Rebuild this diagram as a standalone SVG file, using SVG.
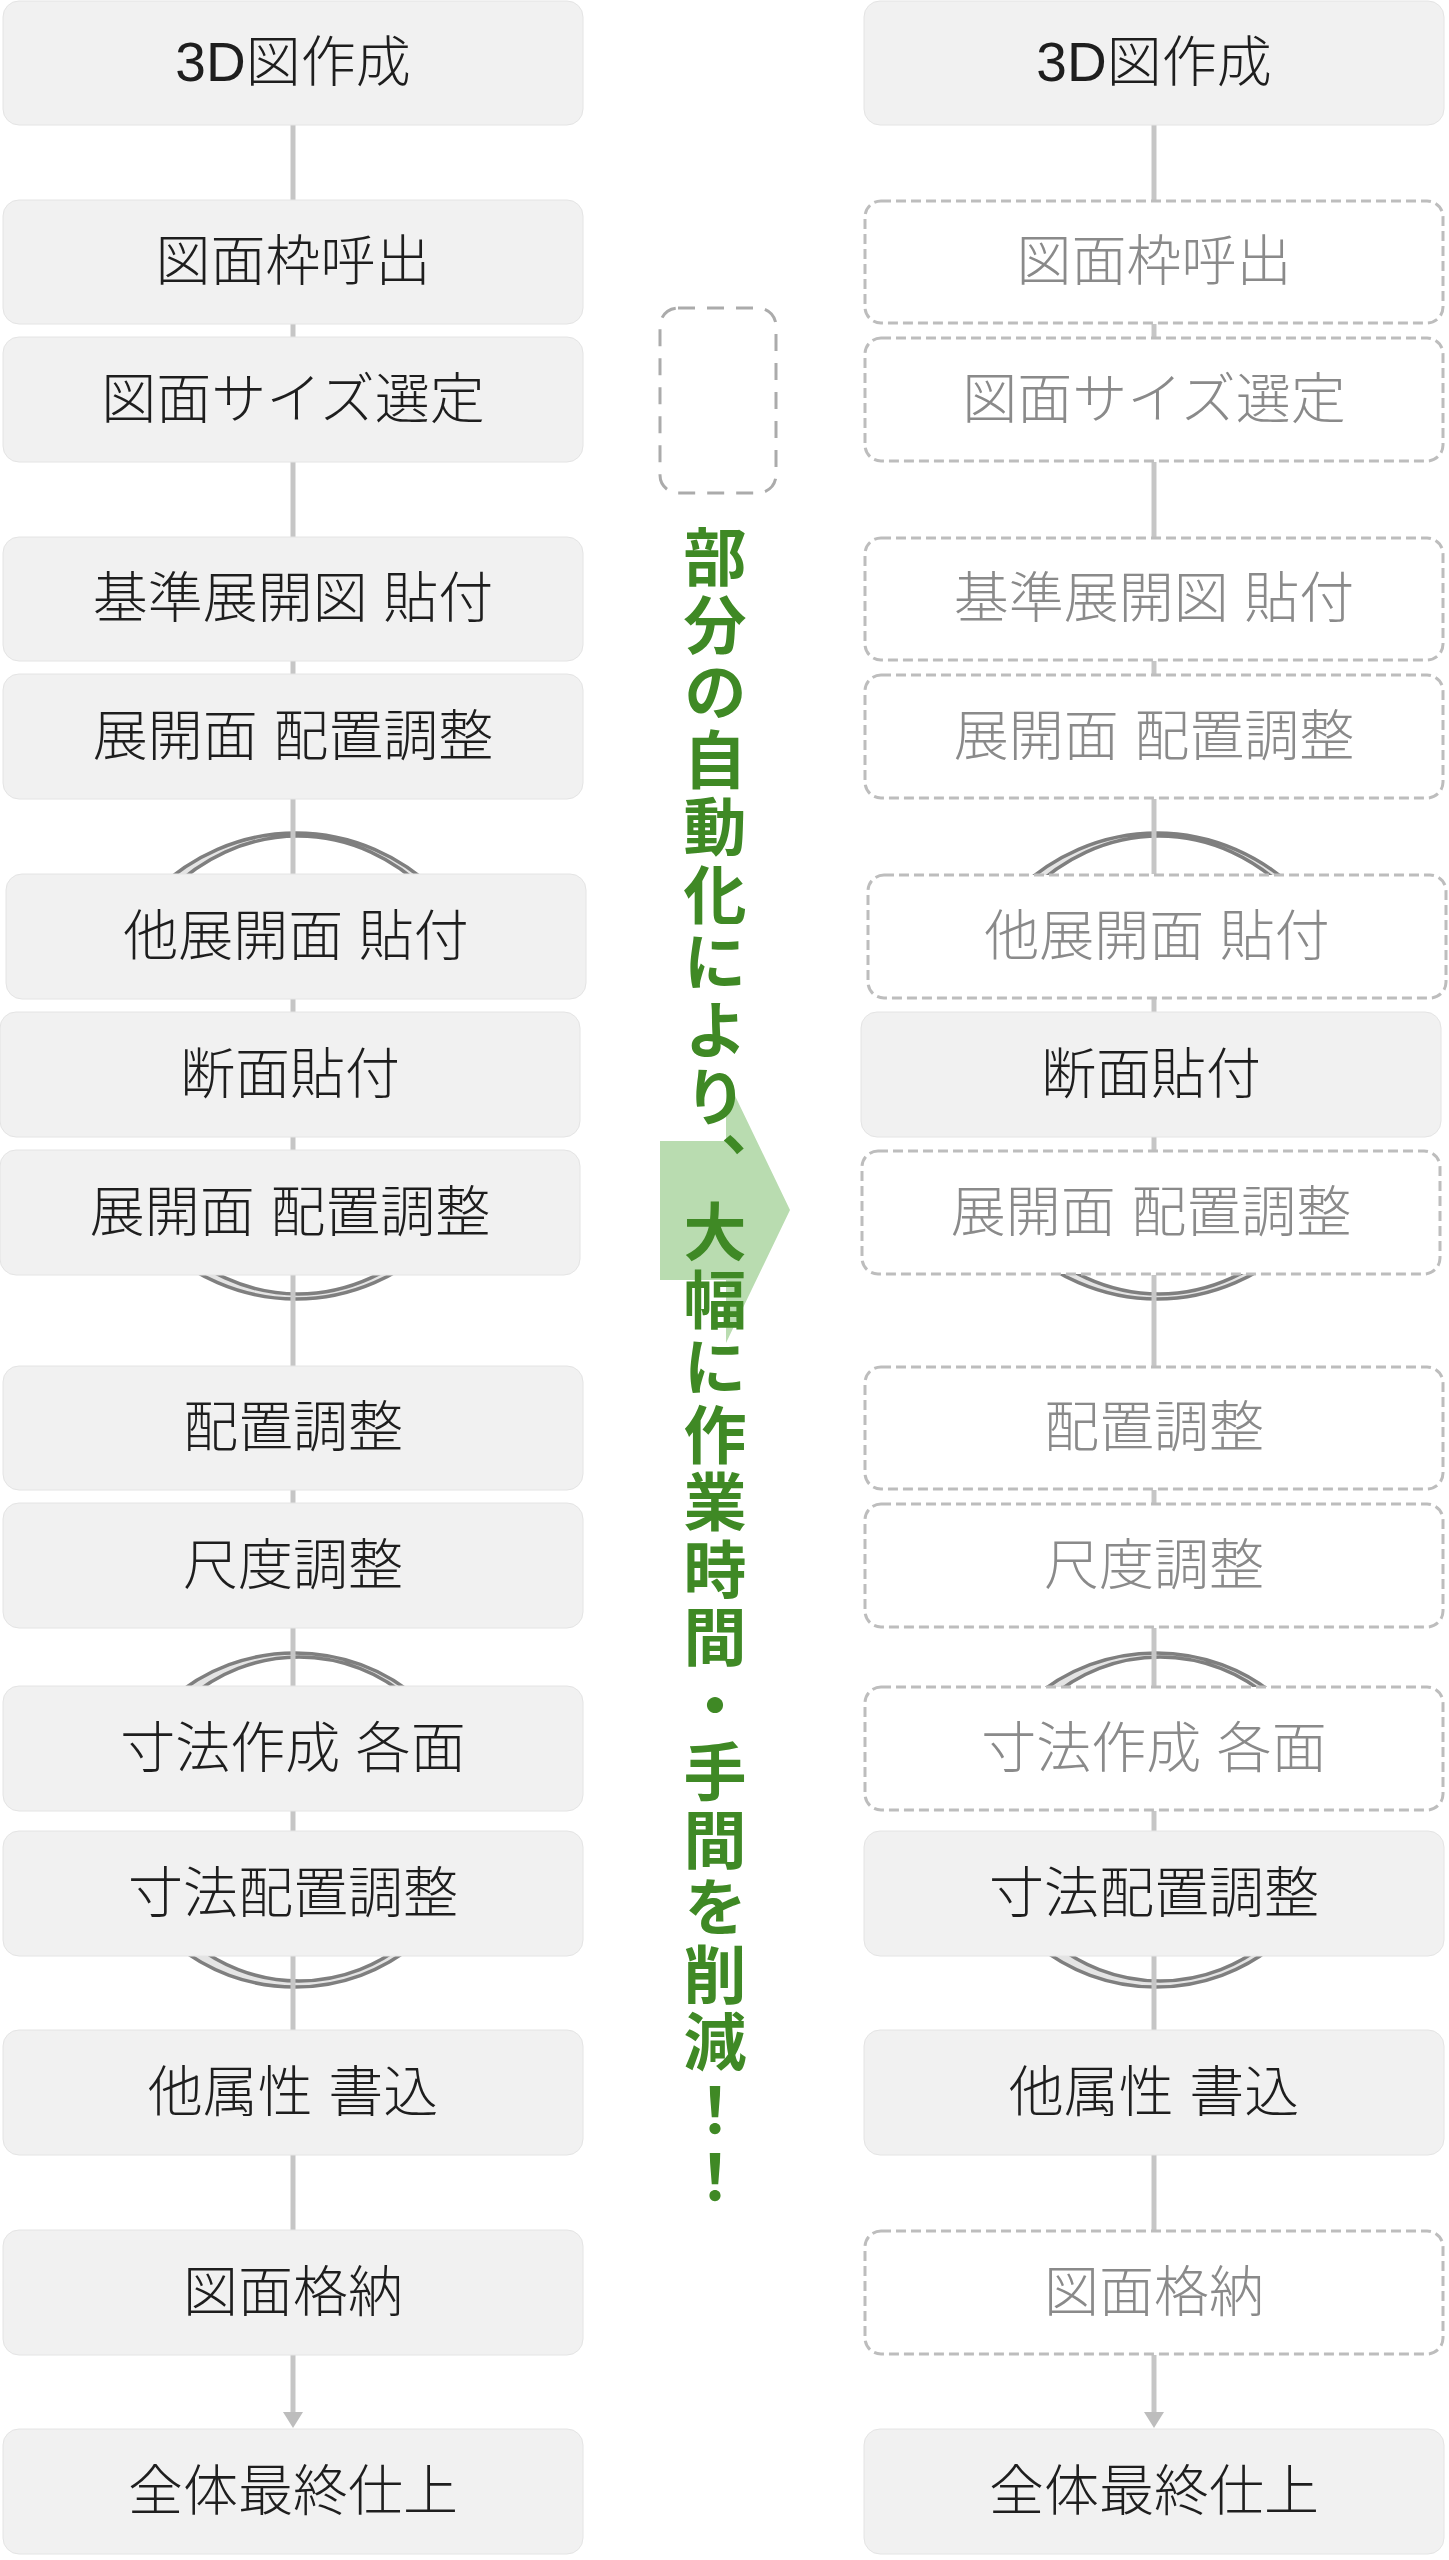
<svg xmlns="http://www.w3.org/2000/svg" width="1449" height="2560" viewBox="0 0 1449 2560">
<style>
.bx{fill:#f1f1f1;stroke:#e4e4e4;stroke-width:1}
.dbx{fill:#ffffff;stroke:#bdbdbd;stroke-width:3;stroke-dasharray:10 5}
.t{font-family:"Liberation Sans","Noto Sans CJK JP",sans-serif;font-size:55px;font-weight:300;text-anchor:middle;fill:#1e1e1e}
.tg{fill:#8a8a8a}
.cn{stroke:#c6c6c6;stroke-width:5;fill:none}
.lp{fill:#e4e4e4;fill-rule:evenodd;stroke:#7f7f7f;stroke-width:3.5}
</style>
<defs>
<marker id="arr" markerUnits="userSpaceOnUse" markerWidth="16" markerHeight="20" viewBox="0 0 16 20" refX="0" refY="10" orient="auto">
<path d="M0,0 L16,10 L0,20 Z" fill="#bdbdbd"/>
</marker>
<clipPath id="clip1"><rect x="0" y="800" width="1449" height="90"/><rect x="0" y="1260" width="1449" height="60"/></clipPath>
<clipPath id="clip2"><rect x="0" y="1630" width="1449" height="70"/><rect x="0" y="1945" width="1449" height="60"/></clipPath>
</defs>
<rect width="1449" height="2560" fill="#ffffff"/>

<g id="loops">
<path class="lp" clip-path="url(#clip1)" d="M83,1066 a213,233 0 1,0 426,0 a213,233 0 1,0 -426,0 Z M100,1065 a198,229 0 1,0 396,0 a198,229 0 1,0 -396,0 Z"/>
<path class="lp" clip-path="url(#clip2)" d="M116,1820 a179,167 0 1,0 358,0 a179,167 0 1,0 -358,0 Z M134,1819 a165,162 0 1,0 330,0 a165,162 0 1,0 -330,0 Z"/>
<path class="lp" clip-path="url(#clip1)" d="M944,1066 a213,233 0 1,0 426,0 a213,233 0 1,0 -426,0 Z M961,1065 a198,229 0 1,0 396,0 a198,229 0 1,0 -396,0 Z"/>
<path class="lp" clip-path="url(#clip2)" d="M977,1820 a179,167 0 1,0 358,0 a179,167 0 1,0 -358,0 Z M995,1819 a165,162 0 1,0 330,0 a165,162 0 1,0 -330,0 Z"/>
</g>

<g id="connectors">
<line class="cn" x1="293" y1="125" x2="293" y2="200"/>
<line class="cn" x1="293" y1="324" x2="293" y2="337"/>
<line class="cn" x1="293" y1="462" x2="293" y2="537"/>
<line class="cn" x1="293" y1="661" x2="293" y2="674"/>
<line class="cn" x1="293" y1="799" x2="293" y2="874"/>
<line class="cn" x1="293" y1="999" x2="293" y2="1012"/>
<line class="cn" x1="293" y1="1137" x2="293" y2="1150"/>
<line class="cn" x1="293" y1="1275" x2="293" y2="1366"/>
<line class="cn" x1="293" y1="1490" x2="293" y2="1503"/>
<line class="cn" x1="293" y1="1628" x2="293" y2="1686"/>
<line class="cn" x1="293" y1="1811" x2="293" y2="1831"/>
<line class="cn" x1="293" y1="1956" x2="293" y2="2030"/>
<line class="cn" x1="293" y1="2155" x2="293" y2="2230"/>
<line class="cn" x1="293" y1="2355" x2="293" y2="2412" marker-end="url(#arr)"/>
<line class="cn" x1="1154" y1="125" x2="1154" y2="200"/>
<line class="cn" x1="1154" y1="324" x2="1154" y2="337"/>
<line class="cn" x1="1154" y1="462" x2="1154" y2="537"/>
<line class="cn" x1="1154" y1="661" x2="1154" y2="674"/>
<line class="cn" x1="1154" y1="799" x2="1154" y2="874"/>
<line class="cn" x1="1154" y1="999" x2="1154" y2="1012"/>
<line class="cn" x1="1154" y1="1137" x2="1154" y2="1150"/>
<line class="cn" x1="1154" y1="1275" x2="1154" y2="1366"/>
<line class="cn" x1="1154" y1="1490" x2="1154" y2="1503"/>
<line class="cn" x1="1154" y1="1628" x2="1154" y2="1686"/>
<line class="cn" x1="1154" y1="1811" x2="1154" y2="1831"/>
<line class="cn" x1="1154" y1="1956" x2="1154" y2="2030"/>
<line class="cn" x1="1154" y1="2155" x2="1154" y2="2230"/>
<line class="cn" x1="1154" y1="2355" x2="1154" y2="2412" marker-end="url(#arr)"/>
</g>

<g id="left-1"><rect class="bx" x="3" y="1" width="580" height="124" rx="16"/><text class="t" x="293" y="81">3D図作成</text></g>
<g id="left-2"><rect class="bx" x="3" y="200" width="580" height="124" rx="16"/><text class="t" x="293" y="280">図面枠呼出</text></g>
<g id="left-3"><rect class="bx" x="3" y="337" width="580" height="125" rx="16"/><text class="t" x="293" y="418">図面サイズ選定</text></g>
<g id="left-4"><rect class="bx" x="3" y="537" width="580" height="124" rx="16"/><text class="t" x="293" y="617">基準展開図 貼付</text></g>
<g id="left-5"><rect class="bx" x="3" y="674" width="580" height="125" rx="16"/><text class="t" x="293" y="755">展開面 配置調整</text></g>
<g id="left-6"><rect class="bx" x="6" y="874" width="580" height="125" rx="16"/><text class="t" x="296" y="955">他展開面 貼付</text></g>
<g id="left-7"><rect class="bx" x="0" y="1012" width="580" height="125" rx="16"/><text class="t" x="290" y="1093">断面貼付</text></g>
<g id="left-8"><rect class="bx" x="0" y="1150" width="580" height="125" rx="16"/><text class="t" x="290" y="1231">展開面 配置調整</text></g>
<g id="left-9"><rect class="bx" x="3" y="1366" width="580" height="124" rx="16"/><text class="t" x="293" y="1446">配置調整</text></g>
<g id="left-10"><rect class="bx" x="3" y="1503" width="580" height="125" rx="16"/><text class="t" x="293" y="1584">尺度調整</text></g>
<g id="left-11"><rect class="bx" x="3" y="1686" width="580" height="125" rx="16"/><text class="t" x="293" y="1767">寸法作成 各面</text></g>
<g id="left-12"><rect class="bx" x="3" y="1831" width="580" height="125" rx="16"/><text class="t" x="293" y="1912">寸法配置調整</text></g>
<g id="left-13"><rect class="bx" x="3" y="2030" width="580" height="125" rx="16"/><text class="t" x="293" y="2111">他属性 書込</text></g>
<g id="left-14"><rect class="bx" x="3" y="2230" width="580" height="125" rx="16"/><text class="t" x="293" y="2311">図面格納</text></g>
<g id="left-15"><rect class="bx" x="3" y="2429" width="580" height="125" rx="16"/><text class="t" x="293" y="2510">全体最終仕上</text></g>

<g id="right-1"><rect class="bx" x="864" y="1" width="580" height="124" rx="16"/><text class="t" x="1154" y="81">3D図作成</text></g>
<g id="right-2"><rect class="dbx" x="865" y="201" width="578" height="122" rx="16"/><text class="t tg" x="1154" y="280">図面枠呼出</text></g>
<g id="right-3"><rect class="dbx" x="865" y="338" width="578" height="123" rx="16"/><text class="t tg" x="1154" y="418">図面サイズ選定</text></g>
<g id="right-4"><rect class="dbx" x="865" y="538" width="578" height="122" rx="16"/><text class="t tg" x="1154" y="617">基準展開図 貼付</text></g>
<g id="right-5"><rect class="dbx" x="865" y="675" width="578" height="123" rx="16"/><text class="t tg" x="1154" y="755">展開面 配置調整</text></g>
<g id="right-6"><rect class="dbx" x="868" y="875" width="578" height="123" rx="16"/><text class="t tg" x="1157" y="955">他展開面 貼付</text></g>
<g id="right-7"><rect class="bx" x="861" y="1012" width="580" height="125" rx="16"/><text class="t" x="1151" y="1093">断面貼付</text></g>
<g id="right-8"><rect class="dbx" x="862" y="1151" width="578" height="123" rx="16"/><text class="t tg" x="1151" y="1231">展開面 配置調整</text></g>
<g id="right-9"><rect class="dbx" x="865" y="1367" width="578" height="122" rx="16"/><text class="t tg" x="1154" y="1446">配置調整</text></g>
<g id="right-10"><rect class="dbx" x="865" y="1504" width="578" height="123" rx="16"/><text class="t tg" x="1154" y="1584">尺度調整</text></g>
<g id="right-11"><rect class="dbx" x="865" y="1687" width="578" height="123" rx="16"/><text class="t tg" x="1154" y="1767">寸法作成 各面</text></g>
<g id="right-12"><rect class="bx" x="864" y="1831" width="580" height="125" rx="16"/><text class="t" x="1154" y="1912">寸法配置調整</text></g>
<g id="right-13"><rect class="bx" x="864" y="2030" width="580" height="125" rx="16"/><text class="t" x="1154" y="2111">他属性 書込</text></g>
<g id="right-14"><rect class="dbx" x="865" y="2231" width="578" height="123" rx="16"/><text class="t tg" x="1154" y="2311">図面格納</text></g>
<g id="right-15"><rect class="bx" x="864" y="2429" width="580" height="125" rx="16"/><text class="t" x="1154" y="2510">全体最終仕上</text></g>

<g id="placeholder"><rect x="660" y="308" width="116" height="185" rx="18" fill="none" stroke="#ababab" stroke-width="3" stroke-dasharray="17 12"/></g>

<g id="big-arrow"><polygon points="660,1141 726,1141 726,1077 790,1210 726,1343 726,1280 660,1280" fill="#b9dcb0"/></g>

<g id="message"><text x="715" y="525" style="writing-mode:vertical-rl" font-family="'Noto Sans CJK JP',sans-serif" font-size="63" font-weight="700" letter-spacing="4.5" fill="#3f8925">部分の自動化により、大幅に作業時間・手間を削減！！</text></g>
</svg>
